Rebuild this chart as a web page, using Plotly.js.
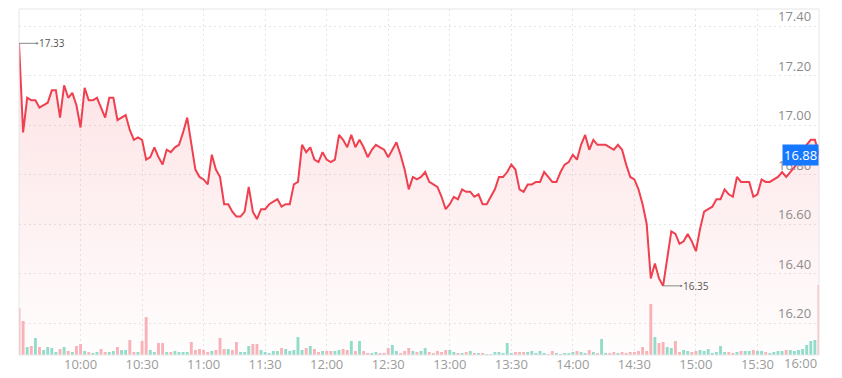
<!DOCTYPE html>
<html>
<head>
<meta charset="utf-8">
<script src="https://cdn.plot.ly/plotly-3.0.1.min.js"></script>
<style>
html,body{margin:0;padding:0;background:#fff;}
#chart{width:842px;height:378px;}
</style>
</head>
<body>
<div id="chart"></div>
<script>
// 2-minute samples from 09:30 to 16:00
const sessionDate = '2024-01-02';
const sessionStart = '09:30';
const stepMinutes = 2;

const price = [
17.33,16.97,17.11,17.10,17.10,17.07,17.08,17.09,17.14,17.14,
17.03,17.16,17.11,17.13,17.08,16.99,17.15,17.10,17.10,17.11,
17.07,17.03,17.11,17.11,17.02,17.03,17.04,16.98,16.94,16.95,
16.94,16.86,16.87,16.91,16.87,16.84,16.90,16.89,16.91,16.92,
16.97,17.03,16.92,16.82,16.79,16.78,16.76,16.88,16.82,16.79,
16.68,16.68,16.65,16.63,16.63,16.65,16.75,16.65,16.62,16.66,
16.66,16.68,16.69,16.70,16.67,16.68,16.68,16.76,16.77,16.92,
16.89,16.91,16.86,16.85,16.89,16.86,16.85,16.86,16.96,16.94,
16.91,16.96,16.91,16.94,16.91,16.87,16.90,16.92,16.91,16.90,
16.87,16.90,16.93,16.88,16.82,16.74,16.79,16.78,16.79,16.81,
16.77,16.76,16.75,16.71,16.66,16.68,16.71,16.70,16.74,16.73,
16.73,16.71,16.72,16.68,16.68,16.71,16.74,16.79,16.79,16.81,
16.84,16.82,16.74,16.73,16.76,16.76,16.77,16.77,16.81,16.79,
16.77,16.77,16.81,16.84,16.85,16.88,16.86,16.92,16.96,16.90,
16.94,16.92,16.92,16.92,16.91,16.90,16.92,16.90,16.84,16.79,
16.78,16.74,16.68,16.60,16.38,16.44,16.38,16.35,16.46,16.57,
16.56,16.52,16.53,16.56,16.53,16.49,16.58,16.65,16.66,16.67,
16.70,16.70,16.74,16.72,16.71,16.79,16.77,16.77,16.77,16.71,
16.72,16.78,16.77,16.77,16.78,16.79,16.81,16.79,16.81,16.83,
16.85,16.86,16.92,16.94,16.94,16.88
];

// volume per 2-minute slot (thousands of shares)
const volume = [
47,34,8,9,17,8,5,8,7,3,6,8,4,3,9,11,4,3,2,3,
6,3,3,4,8,5,5,15,3,3,14,38,5,3,12,12,3,3,4,3,
3,3,13,5,6,5,3,4,5,17,6,6,5,13,3,3,9,11,11,5,
3,2,4,4,7,6,4,5,18,5,7,9,6,3,4,4,4,4,5,6,
5,14,4,14,4,2,2,3,2,2,7,10,4,2,4,7,4,3,4,7,
3,2,4,3,5,5,3,2,2,3,4,2,2,2,1,1,3,3,2,12,
2,3,3,3,3,4,2,4,2,1,4,2,1,2,2,3,4,3,2,5,
3,2,16,2,2,3,2,3,2,3,3,4,8,4,51,18,12,13,8,7,
14,3,5,4,3,4,5,4,6,2,3,9,3,3,2,3,4,4,4,5,
4,4,3,2,3,4,4,5,5,4,5,6,10,14,15,70
];

const priceTicks = [16.20,16.40,16.60,16.80,17.00,17.20,17.40];
const timeTicks = ['10:00','10:30','11:00','11:30','12:00','12:30','13:00','13:30','14:00','14:30','15:00','15:30'];
const closeLabel = '16:00';

function pad(n){return (n<10?'0':'')+n;}
function stamp(hhmm){return sessionDate+' '+hhmm;}
const startMin = parseInt(sessionStart.slice(0,2))*60+parseInt(sessionStart.slice(3));
const times = price.map((_,i)=>{const m=startMin+i*stepMinutes;return stamp(pad(Math.floor(m/60))+':'+pad(m%60));});

const lastPrice = price[price.length-1];
const maxP = Math.max(...price), minP = Math.min(...price);
const iMax = price.indexOf(maxP), iMin = price.indexOf(minP);

const red = '#f0404f';
const volColors = volume.map((_,i)=> (i>0 && price[i]>=price[i-1]) ? '#93dcca' : '#f9b3b8');

const yLo = 16.0707, yHi = 17.4687;

const traces = [
  {
    x: times, y: price, type:'scatter', mode:'lines',
    line:{color:red, width:2},
    fill:'tozeroy',
    fillgradient:{type:'vertical', start:yLo, stop:maxP,
      colorscale:[[0,'rgba(242,54,69,0.01)'],[1,'rgba(242,54,69,0.15)']]},
    hoverinfo:'skip'
  },
  {
    x: times, y: volume, type:'bar', yaxis:'y2',
    marker:{color:volColors, line:{width:0}},
    width: 85000,
    hoverinfo:'skip'
  }
];

const gridc = '#e6e6e6';
const yLabelAnns = priceTicks.map(v=>({
  x:1, xref:'paper', y:v, yref:'y', text:v.toFixed(2), showarrow:false,
  xanchor:'right', yanchor:'middle', xshift:-6, yshift:10,
  font:{size:13, color:'#8c8c8c'}
}));

const layout = {
  width:842, height:378,
  margin:{l:19, r:23, t:9, b:23},
  paper_bgcolor:'#ffffff', plot_bgcolor:'#ffffff',
  showlegend:false, hovermode:false,
  font:{family:'"Open Sans", sans-serif'},
  xaxis:{
    type:'date', range:[times[0], times[times.length-1]],
    tickmode:'array', tickvals: timeTicks.map(stamp), ticktext: timeTicks,
    showgrid:true, gridcolor:gridc, griddash:'2px,3px', gridwidth:1,
    zeroline:false, showline:false, ticks:'',
    tickfont:{size:13, color:'#9b9b9b'}, fixedrange:true
  },
  yaxis:{
    side:'right', range:[yLo,yHi],
    tickmode:'array', tickvals: priceTicks, showticklabels:false,
    showgrid:true, gridcolor:gridc, griddash:'2px,3px', gridwidth:1,
    zeroline:false, showline:false, ticks:'', fixedrange:true
  },
  yaxis2:{overlaying:'y', range:[0,346], visible:false, fixedrange:true},
  shapes:[
    {type:'rect', xref:'paper', yref:'paper', x0:0, x1:1, y0:0, y1:1,
     line:{color:'#e6e6e6', width:1}, fillcolor:'rgba(0,0,0,0)', layer:'above'}
  ],
  annotations: yLabelAnns.concat([
    {x:times[iMax], y:maxP, xref:'x', yref:'y', text:maxP.toFixed(2),
     showarrow:true, ax:18, ay:0, xanchor:'left', arrowhead:0,
     arrowside:'start', startarrowhead:6, startarrowsize:0.6, arrowwidth:1, arrowcolor:'#888',
     font:{size:10, color:'#555'}},
    {x:times[iMin], y:minP, xref:'x', yref:'y', text:minP.toFixed(2),
     showarrow:true, ax:18, ay:0, xanchor:'left', arrowhead:0,
     arrowside:'start', startarrowhead:6, startarrowsize:0.6, arrowwidth:1, arrowcolor:'#888',
     font:{size:10, color:'#555'}},
    {x:1, y:lastPrice, xref:'paper', yref:'y', text:lastPrice.toFixed(2),
     showarrow:false, xanchor:'right', yanchor:'middle',
     bgcolor:'#1677ff', borderpad:1, font:{size:13, color:'#ffffff'}},
    {x:stamp(closeLabel), y:0, xref:'x', yref:'paper', text:closeLabel,
     showarrow:false, xanchor:'right', yanchor:'top', yshift:3,
     font:{size:13, color:'#9b9b9b'}}
  ])
};

Plotly.newPlot('chart', traces, layout, {displayModeBar:false, staticPlot:true});
</script>
</body>
</html>
